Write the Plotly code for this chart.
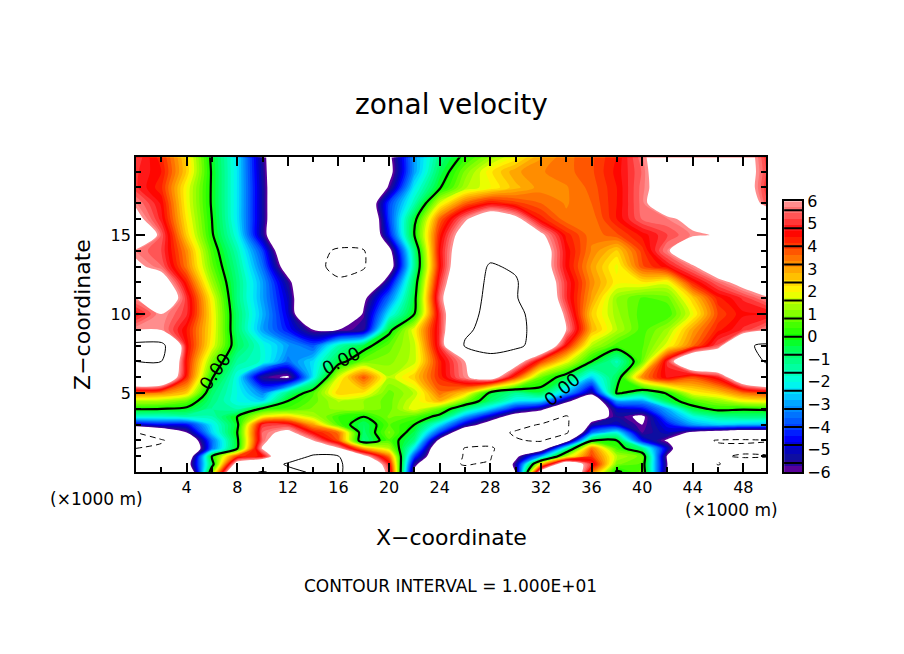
import plotly.graph_objects as go

# x in km, z in km
x_km = [0, 2, 4, 6, 8, 10, 12, 14, 16, 18, 20, 22, 24, 26, 28, 30, 32, 34, 36, 38, 40, 42, 44, 46, 48, 50]
z_km = [0, 0.5, 1, 1.5, 2, 2.5, 3, 3.5, 4, 4.5, 5, 6, 7, 8, 9, 10, 11, 12, 13, 14, 15, 16, 17, 18, 19, 20]

u_wind = [
    [-9, -9, -9, 1, 9.5, 10.1, 9.5, 10.2, 10.2, 9, 5.5, -6.5, -9, -9.5, -8, -6, 7, 10.2, 3.5, -0.2, 0.8, -6.2, -9, -9, -9, -9],
    [-8, -8, -7, -0.5, 7, 9, 10.2, 10.3, 10.2, 9, 4.8, -5.5, -9.5, -10.1, -9.8, -5.5, 2.5, 8, 5, 1, 0.6, -6, -8, -10.1, -9, -9],
    [-9, -9.5, -8, 0, 4, 4.5, 9, 10.2, 10.1, 6.5, 3.5, -4, -8, -10.2, -10.2, -6.5, -3, 1.5, 4, 1.5, 0.8, -6.2, -8, -9.8, -10.2, -10.1],
    [-10, -9.5, -9, -3.5, -0.1, 6.2, 9, 9, 6.2, 3, 1.5, -2.3, -8, -10.1, -10.1, -9.5, -7.5, -1.5, 3.5, 0.5, -1, -5, -9.5, -9.5, -9.5, -9.5],
    [-10.2, -10.3, -8, -3.5, -0.2, 5.5, 8, 6, 3.8, -1, 0.6, -1, -6.5, -9, -9.7, -9.8, -10.3, -7, -0.2, 0, -4.5, -6.2, -9, -10.2, -10.3, -10.1],
    [-10, -8, -6, -2.5, 0, 5.5, 6.5, 4.5, 3.5, -0.8, 1, -0.5, -4, -8, -9, -10.3, -10.5, -10.5, -3.5, -2, -5.8, -5, -6.3, -7, -7.5, -7.5],
    [-5, -4.5, -4.5, -2.2, -0.2, 5, 5, 3, 0.6, -0.7, 0.7, 0, -2.3, -5, -7, -9, -10.2, -10.5, -5.5, -5, -6, -4.5, -3, -2.5, -2.7, -2.8],
    [-1.8, -1.8, -1.5, -1.5, 0, 2, 2.5, 1.5, 0.4, 0, 1, 0.6, -0.3, -3, -5, -7, -8, -10.3, -7, -5.5, -6.3, -3.5, -2, -1.2, -1, -1],
    [0.1, 0, -0.2, -1.2, -1.5, 0.2, 0.5, 1, 1.3, 1.2, 0.8, 2, 0.8, -1, -2.5, -4.5, -5.5, -8, -8, -5, -4.5, -2.8, -0.4, 0.3, 0.1, 0.2],
    [1.5, 1.4, 0.8, -1, -2, -2.5, 0, 0.8, 1.5, 1.2, 0.8, 1.8, 2.8, 1, -0.8, -2.2, -2.5, -5.5, -8, -3, -3, -0.5, 0.6, 1.2, 2, 2.2],
    [3.5, 3.3, 2.5, -0.8, -2, -3.3, -1, 0.6, 2.5, 2.2, 0.8, 1.5, 3.5, 2.5, -0.3, -1.2, -0.5, -2.8, -5.5, 0.2, -0.8, 0.1, 2, 2.5, 3.5, 4],
    [9.5, 9, 4.2, 0.1, -2, -5.6, -6.2, -2.2, 1.8, 3.8, 1.5, 2.5, 4.2, 5.8, 7, 4, 0.8, -0.5, -2.5, -0.6, 3.2, 4.8, 3.8, 4.8, 8, 9.5],
    [10, 10, 4.4, 1, -1.3, -1.8, -3.5, -2.4, -0.4, 0.9, 1.1, 1.6, 4.3, 6, 9, 7, 4, 2, 0, -1.6, 0.8, 5, 9, 9, 9.6, 10.1],
    [11, 11, 4.6, 2, -0.6, -1.9, -3, -3.8, -1.5, -0.4, 0.8, 1.6, 5, 10.3, 11, 10.8, 8.5, 4.5, 1.5, 0.5, 0.6, 1.9, 3.5, 5.3, 9.6, 10.5],
    [6, 5.9, 4.4, 2.2, -0.8, -3, -4.4, -6, -6, -5.5, -0.3, 2, 5, 9.5, 11, 10.8, 9, 6, 2.8, 1.5, 0.5, 1.3, 3, 4.3, 5, 5.9],
    [4.7, 6, 5, 2.2, -0.8, -2.8, -4.8, -9, -9, -5.8, -2.2, 0, 5, 9, 10.8, 10.6, 9, 5.6, 2.5, 1.3, 0.5, 0.4, 1.9, 3.9, 4.6, 4.6],
    [5.9, 8, 5, 2, -1, -3, -5, -9, -9, -6.3, -3.5, -0.3, 5.5, 9, 10.5, 10.2, 8, 5, 3, 1.2, 0.6, 0.8, 2.5, 4.3, 5, 5.9],
    [9, 7, 4.3, 1.3, -1, -3, -5.5, -9, -9.5, -9, -5, -0.6, 5, 8.5, 10.5, 10.3, 7.5, 5, 3.2, 2.1, 2.2, 1.9, 4.3, 5.5, 6.6, 8],
    [6.3, 5.5, 3.4, 0.8, -1.2, -3.5, -7, -9, -11, -10.2, -7, -1.2, 4.5, 8, 10.3, 9.6, 7, 4.6, 3, 1.9, 3.8, 4.6, 5.8, 7.5, 9, 9],
    [5.7, 5.2, 3.2, 0.5, -1.5, -4, -8, -9.5, -10.2, -10.1, -6.5, -1, 4.6, 7.5, 9, 9, 7, 4.6, 3.3, 2.5, 4, 5.8, 8, 8, 6.8, 5.8],
    [9, 5.4, 2.5, 0.1, -2, -5.4, -9, -9, -9, -9, -4.5, 0, 4.3, 7, 9, 9, 6.3, 4.3, 3.4, 3.8, 4.5, 5.2, 5.8, 6.1, 8, 9],
    [6.5, 4.8, 2.2, 0, -2.3, -5.3, -9, -9, -9, -9, -4, -0.3, 3.6, 5.8, 7.5, 6.5, 4.3, 3.4, 3.4, 4.4, 5.5, 5.7, 6.5, 9, 9, 9],
    [5.8, 4.6, 2, -0.1, -2.3, -5.3, -9, -9, -9, -8, -4, -1.5, 1.8, 3.6, 4.5, 4, 3.6, 3.3, 3.6, 4.4, 5.6, 7.5, 9, 9, 8, 5],
    [5, 4.2, 2, -0.1, -2.3, -5.3, -9, -9, -9, -9, -5.8, -2.2, -0.1, 1.4, 2, 2.7, 3.2, 3.3, 3.7, 4.4, 5.6, 7, 9, 9, 7, 4.8],
    [5, 4.4, 2.5, -0.1, -2.3, -5.4, -9, -9, -9, -9, -6.5, -3, -0.6, 1, 2.2, 3, 3.3, 3.5, 3.8, 4.5, 5.5, 7.5, 9, 9, 7, 5],
    [5.2, 4.2, 2.4, -0.2, -2.3, -5.5, -9, -9, -9, -9, -6.3, -3, -1, 0.2, 1.2, 2, 3, 3.5, 3.8, 4.4, 5.7, 7.5, 9, 9, 7, 4.8],
]

# palette
pal_levels = [-6, -5.7, -5.4, -4.9, -4.5, -4, -3.5, -3, -2.5, -2, -1.5, -1, -0.5, 0, 0.5, 1, 1.5, 2, 2.5, 3, 3.5, 4, 4.6, 5, 5.5, 6]
pal_colors = ["#800099", "#30009a", "#10109a", "#0000cc", "#0000ff", "#0040ff", "#0070ff", "#00a0ff", "#00d8ff", "#00ffe8",
              "#00ffb0", "#00ff80", "#00ff50", "#10ff00", "#40ff00", "#80ff00", "#b0ff00", "#ffff00", "#ffd000", "#ffa000",
              "#ff7000", "#ff3800", "#ff0000", "#ff3030", "#ff6868", "#ff9a9a"]
bar_ticks = [-6, -5, -4, -3, -2, -1, 0, 1, 2, 3, 4, 5, 6]
bar_separators = [-5.6, -4.8, -4, -3.2, -2.4, -1.6, -0.8, 0, 0.8, 1.6, 2.4, 3.2, 4, 4.8, 5.6]

step = 0.8 / 3
lim = 6 + step / 2
scale = [[0, "white"], [0.008, "white"]]
for lev, col in zip(pal_levels, pal_colors):
    scale.append([(lev + lim) / (2 * lim), col])
scale[2][0] = 0.0081
scale += [[0.9909, "#ff9a9a"], [0.991, "white"], [1, "white"]]

W, H = 904, 654
BLACK = "black"
FONT = "DejaVu Sans"


# the page puts the plot area a bit off, so reference pixels are converted here
def fx(px):
    return (px - 7.6) / 1.003 / W


def fy(py):
    return 1 - (py - 16) / 0.975 / H


fig = go.Figure()
fig.add_trace(go.Contour(x=x_km, y=z_km, z=u_wind, colorscale=scale, zauto=False, zmin=-lim, zmax=lim,
                         contours=dict(start=-6, end=6, size=step, coloring="fill", showlines=False),
                         line=dict(width=0, smoothing=0.8), showscale=False))
# the contour lines on top
fig.add_trace(go.Contour(x=x_km, y=z_km, z=u_wind, autocontour=False, showscale=False,
                         contours=dict(start=0, end=0, size=1, coloring="none"),
                         line=dict(color=BLACK, width=2.2, smoothing=0.8)))
fig.add_trace(go.Contour(x=x_km, y=z_km, z=u_wind, autocontour=False, showscale=False,
                         contours=dict(start=10, end=10, size=1, coloring="none"),
                         line=dict(color=BLACK, width=1, smoothing=0.8)))
fig.add_trace(go.Contour(x=x_km, y=z_km, z=u_wind, autocontour=False, showscale=False,
                         contours=dict(start=-10, end=-10, size=1, coloring="none"),
                         line=dict(color=BLACK, width=1, dash="6px,4px", smoothing=0.8)))

# colour bar as a small second plot
n_bands = 45
bar_y = [-6 + step * (i + 0.5) for i in range(n_bands)]
fig.add_trace(go.Heatmap(x=[0], y=bar_y, z=[[v] for v in bar_y], colorscale=scale, zauto=False, zmin=-lim, zmax=lim,
                         showscale=False, xaxis="x2", yaxis="y2"))

axis_line = dict(showline=True, linecolor=BLACK, linewidth=2, mirror="allticks", showgrid=False, zeroline=False,
                 ticks="inside", ticklen=9, tickwidth=2, tickcolor=BLACK,
                 tickfont=dict(size=16, color=BLACK, family=FONT))

fig.update_layout(
    width=W, height=H, margin=dict(l=0, r=0, t=0, b=0),
    paper_bgcolor="white", plot_bgcolor="white", showlegend=False,
    xaxis=dict(domain=[fx(136), fx(768)], range=[0, 49.8], tickmode="array", tickvals=list(range(4, 49, 4)),
               minor=dict(dtick=2, ticks="inside", ticklen=5, tickwidth=2, tickcolor=BLACK, showgrid=False),
               **axis_line),
    yaxis=dict(domain=[fy(473), fy(157)], range=[0, 19.9], tickmode="array", tickvals=[5, 10, 15],
               minor=dict(dtick=1, ticks="inside", ticklen=5, tickwidth=2, tickcolor=BLACK, showgrid=False),
               **axis_line),
    xaxis2=dict(domain=[fx(786), fx(804)], range=[-0.5, 0.5], showticklabels=False, ticks="", showgrid=False,
                zeroline=False, showline=True, linecolor=BLACK, linewidth=2, mirror=True, anchor="y2"),
    yaxis2=dict(domain=[fy(473), fy(201)], range=[-6, 6], side="right", anchor="x2", tickmode="array",
                tickvals=bar_ticks, ticks="", showgrid=False, zeroline=False, showline=True, linecolor=BLACK,
                linewidth=2, mirror=True, tickfont=dict(size=16, color=BLACK, family=FONT)),
)

for s in bar_separators:
    fig.add_shape(type="line", xref="x2", yref="y2", x0=-0.5, x1=0.5, y0=s, y1=s, line=dict(color=BLACK, width=2))


def label(text, px, py, size, angle=0):
    fig.add_annotation(text=text, xref="paper", yref="paper", x=fx(px), y=fy(py), showarrow=False,
                       textangle=angle, xanchor="center", yanchor="middle",
                       font=dict(size=size, color=BLACK, family=FONT))


label("zonal velocity", 452, 104, 28)
label("X\u2212coordinate", 452, 539, 22)
label("Z\u2212coordinate", 83, 315, 22, -90)
label("CONTOUR INTERVAL = 1.000E+01", 451, 587, 17)
label("(\u00d71000 m)", 96, 500, 17)
label("(\u00d71000 m)", 733, 511, 17)
label("0.00", 215, 372, 18, -55)
label("0.00", 342, 361, 18, -27)
label("0.00", 563, 390, 18, -40)

fig.write_html("out.html")
